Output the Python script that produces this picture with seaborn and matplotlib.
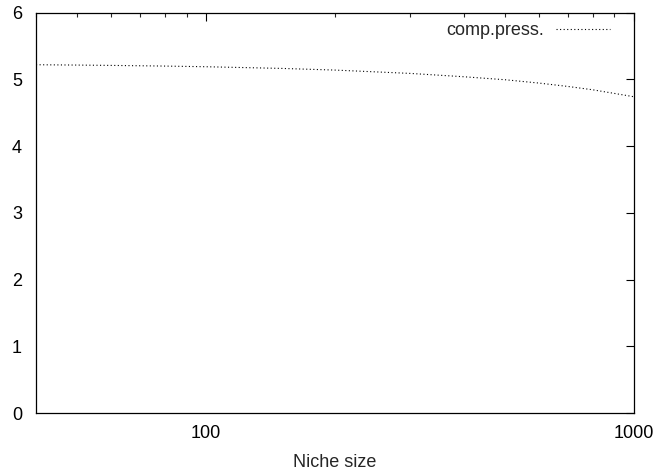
import matplotlib
matplotlib.use("Agg")
import matplotlib.pyplot as plt
import seaborn as sns
import pandas as pd
import numpy as np
from matplotlib.ticker import FixedLocator, NullFormatter, LogLocator

niche_size = [40, 50, 60, 80, 100, 150, 200, 300, 400, 500, 600, 700, 800, 900, 1000]
comp_press = [5.22, 5.215, 5.21, 5.20, 5.19, 5.165, 5.14, 5.09, 5.04, 4.995, 4.945, 4.895, 4.845, 4.79, 4.74]

x_ticks = [100, 1000]
x_tick_labels = ["100", "1000"]
y_ticks = [0, 1, 2, 3, 4, 5, 6]

df = pd.DataFrame({"Niche size": niche_size, "comp.press.": comp_press})

sns.set_style("white")
plt.rcParams["font.family"] = ["Liberation Sans", "DejaVu Sans"]

FS = 13
L, R, T, B = 36.0, 634.0, 12.7, 413.0

fig = plt.figure(figsize=(6.54, 4.74), dpi=100)
ax = fig.add_axes([L / 654, (474 - B) / 474, (R - L) / 654, (B - T) / 474])

sns.lineplot(data=df, x="Niche size", y="comp.press.", ax=ax, color="black",
             linewidth=0.8, label="comp.press.")
ax.lines[0].set_dashes([1, 2.2])

ax.set_xscale("log")
ax.set_xlim(40, 1000)
ax.set_ylim(0, 6)
ax.xaxis.set_major_locator(FixedLocator(x_ticks))
ax.set_xticklabels(x_tick_labels)
ax.xaxis.set_minor_locator(LogLocator(base=10, subs=np.arange(2, 10)))
ax.xaxis.set_minor_formatter(NullFormatter())
ax.set_yticks(y_ticks)
ax.set_xlabel("Niche size", fontsize=FS, labelpad=8)
ax.set_ylabel("")

for s in ax.spines.values():
    s.set_visible(True)
    s.set_color("black")
    s.set_linewidth(0.9)

ax.tick_params(which="major", direction="in", length=6, width=0.8, top=True, right=True,
               labelsize=FS, colors="black")
ax.tick_params(which="minor", direction="in", length=3, width=0.8, top=True, right=True)
ax.tick_params(axis="x", which="major", pad=9)
ax.tick_params(axis="y", which="major", pad=10)

leg = ax.legend(loc="upper right", bbox_to_anchor=(0.9716, 0.994), frameon=False,
                markerfirst=False, fontsize=FS, handlelength=3.0,
                borderaxespad=0.0, handletextpad=0.67)

fig.savefig("out.png", dpi=100)
